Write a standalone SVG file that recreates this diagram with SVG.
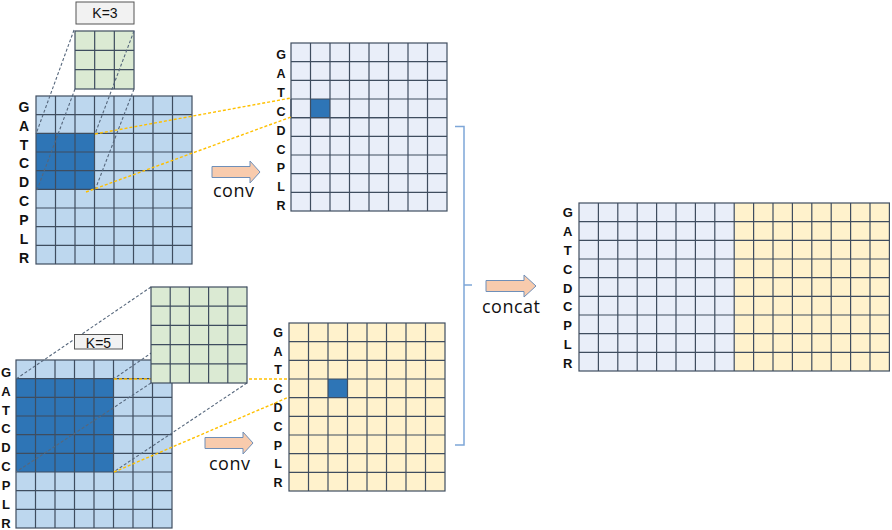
<svg xmlns="http://www.w3.org/2000/svg" width="892" height="530" viewBox="0 0 892 530">
<style>
.grid{fill:none;stroke:#3f4d5f;stroke-width:1.2}
.lb{fill:#bdd7ee}
.pb{fill:#e9eef9}
.yl{fill:#fff2cc}
.gr{fill:#dbead3}
.dk{fill:#2e75b6}
.lab{font-family:"Liberation Sans",Arial,sans-serif;font-weight:bold;fill:#111;text-anchor:middle}
.word{font-family:"Open Sans","Liberation Sans",Arial,sans-serif;font-size:18px;fill:#111;letter-spacing:0.5px}
.kbox{fill:#f2f2f2;stroke:#555;stroke-width:1}
.ktxt{font-family:"Liberation Sans",Arial,sans-serif;fill:#111;text-anchor:middle}
.gdash{stroke:#56677c;stroke-width:1.1;stroke-dasharray:3 2;fill:none}
.ydash{stroke:#ffc000;stroke-width:1.4;stroke-dasharray:3 2;fill:none}
.arr{fill:#f8cbad;stroke:#6f8fb8;stroke-width:1}
.brk{fill:none;stroke:#7ea6d8;stroke-width:1.5}
</style>

<g id="input-top">
<rect class="lb" x="36" y="96" width="156" height="168"/>
<rect class="dk" x="36" y="133.33" width="58.5" height="56"/>
<path class="grid" d="M55.5,96V264M75,96V264M94.5,96V264M114,96V264M133.5,96V264M153,96V264M172.5,96V264M36,114.67H192M36,133.33H192M36,152H192M36,170.67H192M36,189.33H192M36,208H192M36,226.67H192M36,245.33H192"/>
<rect class="grid" x="36" y="96" width="156" height="168"/>
<g class="lab" font-size="14">
<text x="24" y="111.7">G</text><text x="24" y="130.6">A</text><text x="24" y="149.5">T</text><text x="24" y="168.4">C</text><text x="24" y="187.3">D</text><text x="24" y="206.2">C</text><text x="24" y="225.1">P</text><text x="24" y="244">L</text><text x="24" y="262.9">R</text>
</g>
</g>

<g id="kernel-3">
<rect class="kbox" x="76" y="2" width="58" height="22"/>
<text class="ktxt" x="105" y="17.5" font-size="14">K=3</text>
<rect class="gr" x="75" y="31" width="59" height="58"/>
<path class="grid" d="M94.67,31V89M114.33,31V89M75,50.33H134M75,69.67H134"/>
<rect class="grid" x="75" y="31" width="59" height="58"/>
</g>

<g id="feature-top">
<rect class="pb" x="291" y="43" width="156" height="168"/>
<rect class="dk" x="310.5" y="99" width="19.5" height="18.67"/>
<path class="grid" d="M310.5,43V211M330,43V211M349.5,43V211M369,43V211M388.5,43V211M408,43V211M427.5,43V211M291,61.67H447M291,80.33H447M291,99H447M291,117.67H447M291,136.33H447M291,155H447M291,173.67H447M291,192.33H447"/>
<rect class="grid" x="291" y="43" width="156" height="168"/>
<path class="grid" stroke-width="1.8" d="M291,99V117.67H388.5"/>
<g class="lab" font-size="12.5">
<text x="281" y="59.3">G</text><text x="281" y="78.1">A</text><text x="281" y="97">T</text><text x="281" y="115.8">C</text><text x="281" y="134.7">D</text><text x="281" y="153.5">C</text><text x="281" y="172.3">P</text><text x="281" y="191.2">L</text><text x="281" y="210">R</text>
</g>
</g>

<g id="input-bottom">
<rect class="lb" x="16" y="360" width="156" height="168"/>
<rect class="dk" x="16" y="378.67" width="97.5" height="93.33"/>
<path class="grid" d="M35.5,360V528M55,360V528M74.5,360V528M94,360V528M113.5,360V528M133,360V528M152.5,360V528M16,378.67H172M16,397.33H172M16,416H172M16,434.67H172M16,453.33H172M16,472H172M16,490.67H172M16,509.33H172"/>
<rect class="grid" x="16" y="360" width="156" height="168"/>
<g class="lab" font-size="13">
<text x="6" y="376.7">G</text><text x="6" y="395.6">A</text><text x="6" y="414.5">T</text><text x="6" y="433.4">C</text><text x="6" y="452.3">D</text><text x="6" y="471.2">C</text><text x="6" y="490.1">P</text><text x="6" y="509">L</text><text x="6" y="527.9">R</text>
</g>
</g>

<g id="feature-bottom">
<rect class="yl" x="289" y="323" width="156" height="168"/>
<rect class="dk" x="328" y="379" width="19.5" height="18.67"/>
<path class="grid" d="M308.5,323V491M328,323V491M347.5,323V491M367,323V491M386.5,323V491M406,323V491M425.5,323V491M289,341.67H445M289,360.33H445M289,379H445M289,397.67H445M289,416.33H445M289,435H445M289,453.67H445M289,472.33H445"/>
<rect class="grid" x="289" y="323" width="156" height="168"/>
<g class="lab" font-size="12.5">
<text x="278" y="336.7">G</text><text x="278" y="355.5">A</text><text x="278" y="374.3">T</text><text x="278" y="393.1">C</text><text x="278" y="411.9">D</text><text x="278" y="430.7">C</text><text x="278" y="449.5">P</text><text x="278" y="468.3">L</text><text x="278" y="487.1">R</text>
</g>
</g>

<g id="concat-output">
<rect class="pb" x="579" y="203" width="155.2" height="168"/>
<rect class="yl" x="734.2" y="203" width="155.2" height="168"/>
<path class="grid" d="M598.4,203V371M617.8,203V371M637.2,203V371M656.6,203V371M676,203V371M695.4,203V371M714.8,203V371M734.2,203V371M753.6,203V371M773,203V371M792.4,203V371M811.8,203V371M831.2,203V371M850.6,203V371M870,203V371M579,221.67H889.4M579,240.33H889.4M579,259H889.4M579,277.67H889.4M579,296.33H889.4M579,315H889.4M579,333.67H889.4M579,352.33H889.4"/>
<rect class="grid" x="579" y="203" width="310.4" height="168"/>
<g class="lab" font-size="13">
<text x="567.7" y="216.7">G</text><text x="567.7" y="235.65">A</text><text x="567.7" y="254.6">T</text><text x="567.7" y="273.55">C</text><text x="567.7" y="292.5">D</text><text x="567.7" y="311.45">C</text><text x="567.7" y="330.4">P</text><text x="567.7" y="349.35">L</text><text x="567.7" y="368.3">R</text>
</g>
</g>

<g id="connectors">
<path class="gdash" d="M74,30L36,134M75,89L37,190M134,31L95,134M134,89L95,190"/>
<path class="gdash" d="M151,287L16,379M247,287L113.5,379M151,383L16,472M247,383L113.5,472"/>
<path class="ydash" d="M95,134L291,98M86,192L291,117"/>
<path class="ydash" d="M114,379L289,379M114,472L289,397"/>
<path class="brk" d="M455,126.5H464V445H455M464,285H472"/>
<path class="arr" d="M212,166.5H250V161L260,172L250,183V177.5H212Z"/>
<path class="arr" d="M205,437.5H243V432L253,443L243,454V448.5H205Z"/>
<path class="arr" d="M486,280.5H524V275L536,286L524,297V291.5H486Z"/>
<text class="word" x="213" y="196.5">conv</text>
<text class="word" x="209" y="469.5">conv</text>
<text class="word" x="482" y="312.5" font-size="18.5">concat</text>
</g>

<g id="kernel-5">
<rect class="kbox" x="74.5" y="334.5" width="48" height="14.5"/>
<text class="ktxt" x="98.5" y="348" font-size="14">K=5</text>
<rect class="gr" x="151" y="287" width="96" height="96"/>
<path class="grid" d="M170.2,287V383M189.4,287V383M208.6,287V383M227.8,287V383M151,306.2H247M151,325.4H247M151,344.6H247M151,363.8H247"/>
<rect class="grid" x="151" y="287" width="96" height="96"/>
</g>
</svg>
